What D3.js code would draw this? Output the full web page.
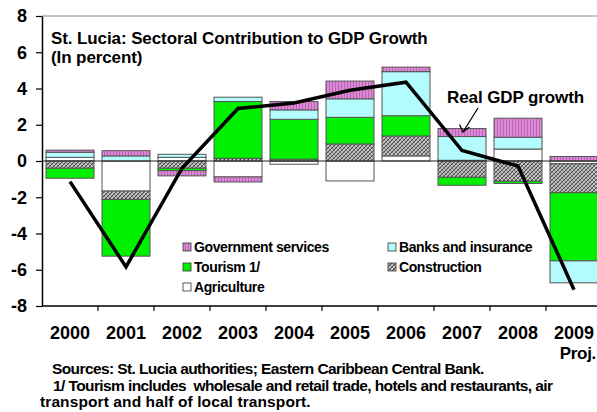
<!DOCTYPE html>
<html>
<head>
<meta charset="utf-8">
<script src="https://cdn.jsdelivr.net/npm/d3@7"></script>
<style>
  html, body { margin: 0; padding: 0; background: #fff; }
  svg { display: block; font-family: "Liberation Sans", Arial, sans-serif; }
</style>
</head>
<body>
<svg id="chart" width="597" height="412"></svg>
<script>
// Years on the category axis
const years = ["2000", "2001", "2002", "2003", "2004", "2005", "2006", "2007", "2008", "2009"];

// Sectoral contributions to GDP growth (percentage points)
const agriculture  = [0.20, -1.66, 0.20, -0.88, -0.18, -1.10, 0.28, 0.04, 0.66, -0.15];
const construction = [-0.40, -0.46, -0.40, 0.15, 0.10, 0.94, 1.10, -0.90, -1.12, -1.60];
const tourism      = [-0.55, -3.13, -0.13, 3.13, 2.20, 1.47, 1.12, -0.44, -0.12, -3.76];
const banks        = [0.28, 0.28, 0.17, 0.24, 0.52, 1.02, 2.43, 1.31, 0.65, -1.21];
const government   = [0.12, 0.29, -0.29, -0.28, 0.46, 0.98, 0.25, 0.44, 1.05, 0.25];

// Real GDP growth (percent)
const realGDP = [-1.14, -5.84, -0.40, 2.90, 3.20, 3.90, 4.35, 0.58, -0.28, -7.10];

// Y axis ticks
const yTicks = [-8, -6, -4, -2, 0, 2, 4, 6, 8];

// Series in stacking order
const seriesKeys = ["agriculture", "construction", "tourism", "banks", "government"];
const seriesLabels = {
  government: "Government services",
  banks: "Banks and insurance",
  tourism: "Tourism 1/",
  construction: "Construction",
  agriculture: "Agriculture"
};

// Footnote lines
const noteLines = [
  "Sources: St. Lucia authorities; Eastern Caribbean Central Bank.",
  "1/ Tourism includes  wholesale and retail trade, hotels and restaurants, air",
  "transport and half of local transport."
];

const rows = years.map((yr, i) => ({
  year: yr,
  agriculture: agriculture[i],
  construction: construction[i],
  tourism: tourism[i],
  banks: banks[i],
  government: government[i]
}));

const svg = d3.select("#chart");
const FONT = '"Liberation Sans", Arial, sans-serif';

// Fill patterns
const defs = svg.append("defs");
const gov = defs.append("pattern").attr("id", "govFill")
  .attr("patternUnits", "userSpaceOnUse").attr("width", 3).attr("height", 3);
gov.append("rect").attr("width", 3).attr("height", 3).attr("fill", "#db8ad6");
gov.append("rect").attr("x", 2).attr("width", 1).attr("height", 3).attr("fill", "#bb62b4");

const hatch = defs.append("pattern").attr("id", "hatchFill")
  .attr("patternUnits", "userSpaceOnUse").attr("width", 4).attr("height", 4);
hatch.append("rect").attr("width", 4).attr("height", 4).attr("fill", "#c4c4c4");
hatch.append("path").attr("d", "M0,4 L4,0 M-1,1 L1,-1 M3,5 L5,3").attr("stroke", "#444").attr("stroke-width", 1);
hatch.append("path").attr("d", "M0,0 L4,4 M-1,3 L1,5 M3,-1 L5,1").attr("stroke", "#6a6a6a").attr("stroke-width", 0.7);

const fills = {
  agriculture: "#ffffff",
  construction: "url(#hatchFill)",
  tourism: "#00f000",
  banks: "#b3fbfd",
  government: "url(#govFill)"
};

// Scales
const x = d3.scaleBand().domain(years).range([42, 602])
  .paddingInner(0.143).paddingOuter(0.0715);
const y = d3.scaleLinear().domain([-8, 8]).range([306, 16]);

// Stacked bars (positives up, negatives down)
const stacked = d3.stack().keys(seriesKeys).offset(d3.stackOffsetDiverging)(rows);

const barG = svg.append("g");
stacked.forEach(layer => {
  barG.append("g")
    .attr("fill", fills[layer.key])
    .selectAll("rect")
    .data(layer)
    .join("rect")
    .attr("x", d => x(d.data.year))
    .attr("width", x.bandwidth())
    .attr("y", d => y(Math.max(d[0], d[1])))
    .attr("height", d => Math.abs(y(d[0]) - y(d[1])))
    .attr("stroke", "#555")
    .attr("stroke-width", 1);
});

// Plot frame: top edge and zero line
svg.append("line").attr("x1", 42).attr("x2", 597).attr("y1", 16).attr("y2", 16)
  .attr("stroke", "#888").attr("stroke-width", 1);
svg.append("line").attr("x1", 42).attr("x2", 597).attr("y1", y(0)).attr("y2", y(0))
  .attr("stroke", "#222").attr("stroke-width", 1);

// Real GDP growth line
const line = d3.line().x((d, i) => x(years[i]) + x.bandwidth() / 2).y(d => y(d));
svg.append("path").datum(realGDP)
  .attr("d", line).attr("fill", "none")
  .attr("stroke", "#000").attr("stroke-width", 3.5);

// Y axis
const yAxis = svg.append("g").attr("transform", "translate(42,0)")
  .call(d3.axisLeft(y).tickValues(yTicks).tickSize(6).tickSizeOuter(0).tickPadding(9).tickFormat(d => String(d)));
yAxis.select(".domain").attr("stroke", "#000").attr("stroke-width", 1.5);
yAxis.selectAll(".tick line").attr("stroke", "#000").attr("stroke-width", 1.2);
yAxis.selectAll("text").attr("font-family", FONT).attr("font-size", 18).attr("font-weight", "bold").attr("fill", "#000");

// X axis with labels centered in each band
const xAxis = svg.append("g").attr("transform", `translate(0,${y(-8)})`)
  .call(d3.axisBottom(x).tickSize(0).tickSizeOuter(0).tickPadding(20));
xAxis.select(".domain").remove();
xAxis.selectAll("text").attr("font-family", FONT).attr("font-size", 18).attr("font-weight", "bold").attr("fill", "#000");
xAxis.append("line").attr("x1", 42).attr("x2", 597).attr("y1", 0).attr("y2", 0)
  .attr("stroke", "#000").attr("stroke-width", 1.5);
// Tick marks at band boundaries
xAxis.selectAll(".bound").data(years.slice(1)).join("line")
  .attr("class", "bound")
  .attr("x1", d => x(d) - x.step() * x.paddingInner() / 2)
  .attr("x2", d => x(d) - x.step() * x.paddingInner() / 2)
  .attr("y1", 0).attr("y2", 5)
  .attr("stroke", "#000").attr("stroke-width", 1.2);
// Projection note under the last year
xAxis.append("text")
  .attr("x", x(years[9]) + x.bandwidth() / 2 + 22).attr("y", 53)
  .attr("text-anchor", "end").attr("fill", "#000")
  .attr("font-family", FONT).attr("font-size", 17).attr("font-weight", "bold")
  .attr("letter-spacing", -0.3)
  .text("Proj.");

// Title
svg.append("text").attr("x", 51).attr("y", 44)
  .attr("font-size", 17).attr("font-weight", "bold").attr("letter-spacing", -0.1)
  .text("St. Lucia: Sectoral Contribution to GDP Growth");
svg.append("text").attr("x", 51).attr("y", 63)
  .attr("font-size", 17).attr("font-weight", "bold").attr("letter-spacing", -0.1)
  .text("(In percent)");

// Line annotation with arrow
svg.append("text").attr("x", 447).attr("y", 103)
  .attr("font-size", 17).attr("font-weight", "bold").attr("letter-spacing", -0.1)
  .text("Real GDP growth");
svg.append("line").attr("x1", 478).attr("y1", 108).attr("x2", 463).attr("y2", 132)
  .attr("stroke", "#000").attr("stroke-width", 1.3);
svg.append("path").attr("d", "M459.5,124.5 L463,132 L469.5,127")
  .attr("fill", "none").attr("stroke", "#000").attr("stroke-width", 1.3);

// Legend
const legendItems = [
  { key: "government", x: 183, y: 247 },
  { key: "tourism", x: 183, y: 267 },
  { key: "agriculture", x: 183, y: 287 },
  { key: "banks", x: 388, y: 247 },
  { key: "construction", x: 388, y: 267 }
];
const leg = svg.append("g").selectAll("g").data(legendItems).join("g")
  .attr("transform", d => `translate(${d.x},${d.y})`);
leg.append("rect").attr("x", 0).attr("y", -4).attr("width", 8).attr("height", 8)
  .attr("fill", d => fills[d.key]).attr("stroke", "#333").attr("stroke-width", 0.8);
leg.append("text").attr("x", 11).attr("y", 5)
  .attr("font-size", 14).attr("font-weight", "bold").attr("letter-spacing", -0.4)
  .text(d => seriesLabels[d.key]);

// Footnotes
const noteLayout = [
  { x: 52, y: 374, ls: -0.6 },
  { x: 53, y: 390.5, ls: -0.6 },
  { x: 40, y: 406.5, ls: 0.1 }
];
svg.append("g").selectAll("text").data(noteLines).join("text")
  .attr("x", (d, i) => noteLayout[i].x).attr("y", (d, i) => noteLayout[i].y)
  .attr("letter-spacing", (d, i) => noteLayout[i].ls)
  .attr("font-size", 15.5).attr("font-weight", "bold")
  .style("white-space", "pre")
  .text(d => d);
</script>
</body>
</html>
